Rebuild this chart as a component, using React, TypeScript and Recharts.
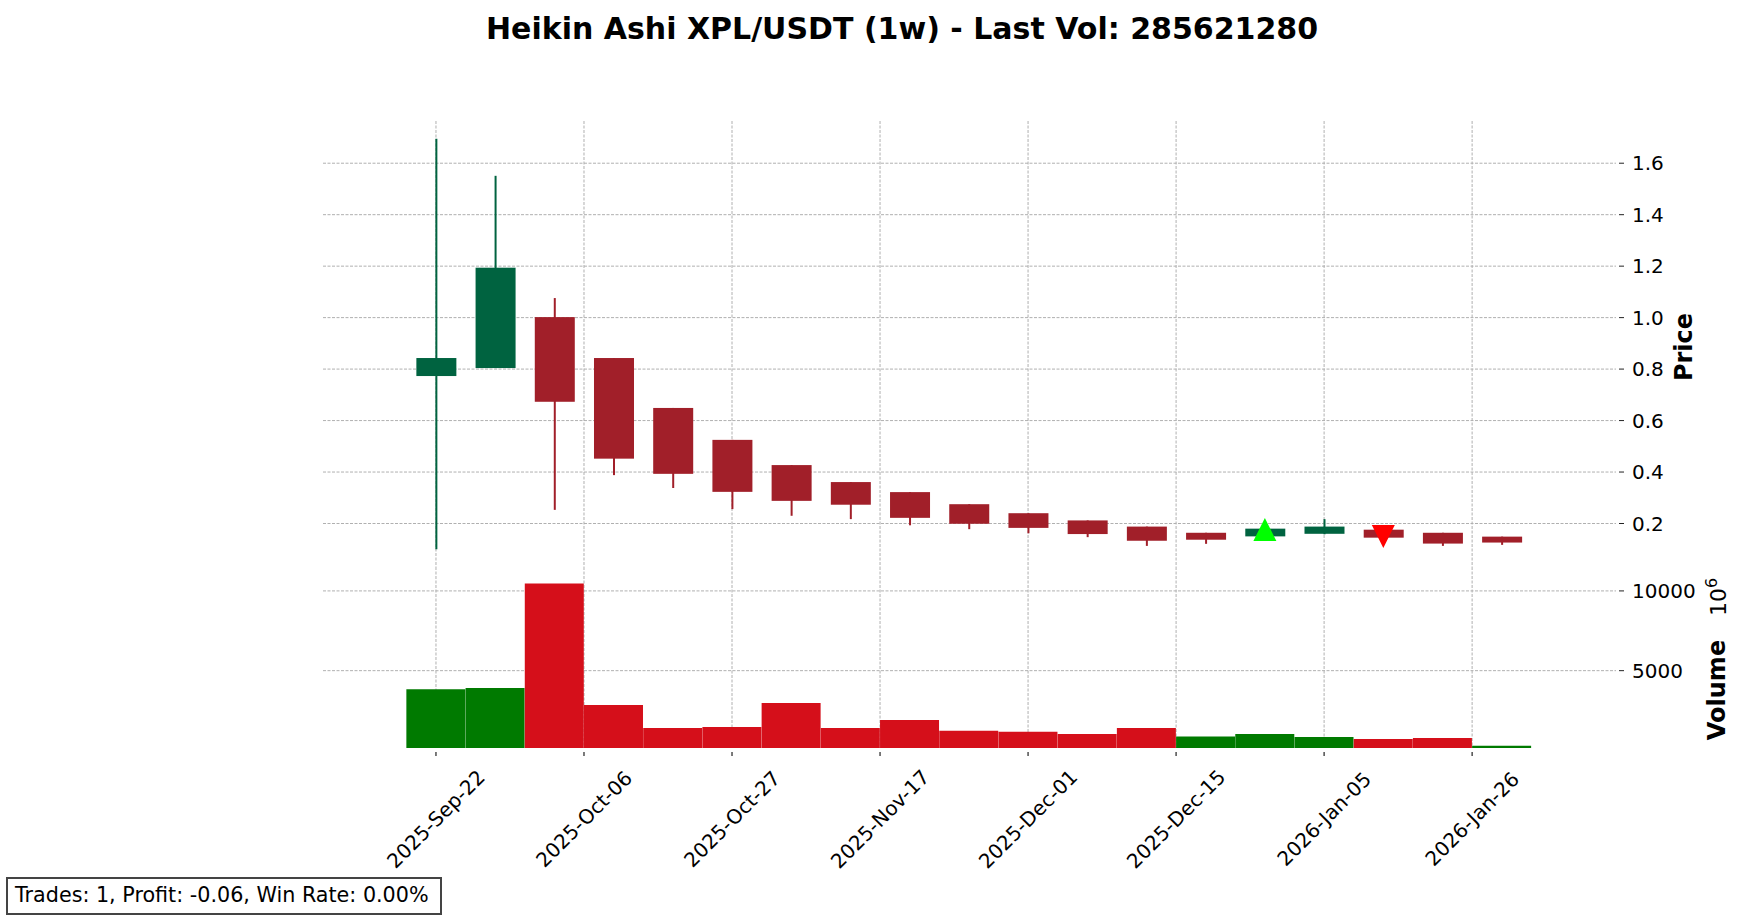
import React from 'react';
import { ComposedChart, Bar, Scatter, XAxis, YAxis, CartesianGrid, Cell } from 'recharts';

// weekly Heikin Ashi candles (price in USDT)
const dates = [
  '2025-09-22', '2025-09-29', '2025-10-06', '2025-10-13', '2025-10-20', '2025-10-27', '2025-11-03',
  '2025-11-10', '2025-11-17', '2025-11-24', '2025-12-01', '2025-12-08', '2025-12-15', '2025-12-22',
  '2025-12-29', '2026-01-05', '2026-01-12', '2026-01-19', '2026-01-26',
];
const opens = [0.773, 0.804, 1.002, 0.843, 0.649, 0.525, 0.427, 0.361, 0.322, 0.275, 0.240, 0.212, 0.188, 0.164, 0.150, 0.160, 0.176, 0.164, 0.149];
const highs = [1.695, 1.551, 1.076, 0.843, 0.649, 0.525, 0.427, 0.361, 0.322, 0.275, 0.240, 0.212, 0.188, 0.164, 0.204, 0.217, 0.176, 0.164, 0.149];
const lows = [0.100, 0.804, 0.253, 0.388, 0.338, 0.256, 0.230, 0.217, 0.193, 0.178, 0.162, 0.147, 0.113, 0.121, 0.150, 0.158, 0.129, 0.113, 0.117];
const closes = [0.843, 1.194, 0.673, 0.452, 0.393, 0.323, 0.288, 0.273, 0.222, 0.199, 0.183, 0.159, 0.133, 0.137, 0.180, 0.188, 0.145, 0.122, 0.126];

// volume in millions
const volumes = [3827, 3909, 10458, 2842, 1399, 1462, 2967, 1399, 1901, 1234, 1171, 1025, 1399, 878, 1025, 836, 711, 774, 285.6];
const volumeUp = [true, true, false, false, false, false, false, false, false, false, false, false, false, true, true, true, false, false, true];

const priceTicks = [0.2, 0.4, 0.6, 0.8, 1.0, 1.2, 1.4, 1.6];
const volumeTicks = [5000, 10000];
const dateTickPositions = [0, 2.5, 5, 7.5, 10, 12.5, 15, 17.5];
const dateTickLabels = ['2025-Sep-22', '2025-Oct-06', '2025-Oct-27', '2025-Nov-17', '2025-Dec-01', '2025-Dec-15', '2026-Jan-05', '2026-Jan-26'];

const buySignals = [{ idx: 14, price: 0.177 }];
const sellSignals = [{ idx: 16, price: 0.1495 }];

const candles = dates.map((date, i) => ({
  idx: i,
  date,
  open: opens[i],
  high: highs[i],
  low: lows[i],
  close: closes[i],
  range: [lows[i], highs[i]],
  volume: volumes[i],
  volUp: volumeUp[i],
}));

const FONT = '"DejaVu Sans", sans-serif';
const UP = '#006340';
const DOWN = '#a11f29';
const VOL_UP = '#007a00';
const VOL_DOWN = '#d50f1a';
const GRID = '#b0b0b0';

const X_DOMAIN = [-1.908, 19.93];
const PRICE_DOMAIN = [0.031, 1.764];
const VOL_DOMAIN = [150, 11500];
const PLOT_LEFT = 323;
const AXIS_W = 132;

// grid only at the tick values, no frame round the plot
const vertGen = ({ offset }: any) =>
  dateTickPositions.map((t) => offset.left + ((t - X_DOMAIN[0]) / (X_DOMAIN[1] - X_DOMAIN[0])) * offset.width);
const horizGen = (ticks: number[], domain: number[]) => ({ offset }: any) =>
  ticks.map((t) => offset.top + ((domain[1] - t) / (domain[1] - domain[0])) * offset.height);

const renderCandle = (props: any) => {
  const { x, y, width, height } = props;
  const p = props.payload || props;
  const top = height >= 0 ? y : y + height;
  const h = Math.abs(height);
  const ppu = h / (p.high - p.low);
  const up = p.close >= p.open;
  const color = up ? UP : DOWN;
  const bodyTop = top + (p.high - Math.max(p.open, p.close)) * ppu;
  const bodyBot = top + (p.high - Math.min(p.open, p.close)) * ppu;
  const cx = x + width / 2;
  return (
    <g>
      <line x1={cx} x2={cx} y1={top} y2={top + h} stroke={color} strokeWidth={2} />
      <rect x={x} y={bodyTop} width={width} height={Math.max(bodyBot - bodyTop, 1)} fill={color} />
    </g>
  );
};

const upTriangle = (props: any) => {
  const { cx, cy } = props;
  const s = 11.5;
  return <polygon points={`${cx},${cy - s} ${cx - s},${cy + s} ${cx + s},${cy + s}`} fill="#00ff00" />;
};

const downTriangle = (props: any) => {
  const { cx, cy } = props;
  const s = 11.5;
  return <polygon points={`${cx},${cy + s} ${cx - s},${cy - s} ${cx + s},${cy - s}`} fill="#ff0000" />;
};

const RightTick = (props: any) => {
  const { x, y, payload, fmt } = props;
  return (
    <g>
      <line x1={x + 3} x2={x + 8} y1={y} y2={y} stroke="#222" strokeWidth={1} />
      <text x={x + 16} y={y} dy="0.36em" fontSize={20} fontFamily={FONT} fill="#000">
        {fmt(payload.value)}
      </text>
    </g>
  );
};

const DateTick = (props: any) => {
  const { x, y, payload } = props;
  const label = dateTickLabels[dateTickPositions.indexOf(payload.value)];
  const cy = y + 71;
  return (
    <g>
      <line x1={x} x2={x} y1={y + 4} y2={y + 8} stroke="#222" strokeWidth={1.2} />
      <text
        x={x}
        y={cy}
        textAnchor="middle"
        dominantBaseline="central"
        transform={`rotate(-45 ${x} ${cy})`}
        fontSize={20}
        fontFamily={FONT}
        fill="#000"
      >
        {label}
      </text>
    </g>
  );
};

export default function App() {
  return (
    <div style={{ position: 'absolute', left: 0, top: 0, width: 1748, height: 921, background: '#fff' }}>
      <div style={{ position: 'absolute', left: 0, top: 0 }}>
        <ComposedChart width={1748} height={567} data={candles} margin={{ top: 121, right: 0, bottom: 0, left: PLOT_LEFT }}>
          <CartesianGrid
            stroke={GRID}
            strokeDasharray="3 1.5"
            strokeWidth={1}
            verticalCoordinatesGenerator={vertGen}
            horizontalCoordinatesGenerator={horizGen(priceTicks, PRICE_DOMAIN)}
          />
          <XAxis
            dataKey="idx"
            type="number"
            domain={X_DOMAIN}
            allowDataOverflow
            ticks={dateTickPositions}
            interval={0}
            tick={false}
            axisLine={false}
            tickLine={false}
            height={0}
          />
          <YAxis
            orientation="right"
            type="number"
            domain={PRICE_DOMAIN}
            allowDataOverflow
            ticks={priceTicks}
            interval={0}
            width={AXIS_W}
            axisLine={false}
            tickLine={false}
            tickSize={0}
            tickMargin={0}
            tick={<RightTick fmt={(v: number) => v.toFixed(1)} />}
          />
          <Bar dataKey="range" barSize={40} shape={renderCandle} isAnimationActive={false} />
          <Scatter data={buySignals} dataKey="price" shape={upTriangle} isAnimationActive={false} />
          <Scatter data={sellSignals} dataKey="price" shape={downTriangle} isAnimationActive={false} />
        </ComposedChart>
      </div>
      <div style={{ position: 'absolute', left: 0, top: 567 }}>
        <ComposedChart width={1748} height={354} data={candles} margin={{ top: 0, right: 0, bottom: 0, left: PLOT_LEFT }}>
          <CartesianGrid
            stroke={GRID}
            strokeDasharray="3 1.5"
            strokeWidth={1}
            verticalCoordinatesGenerator={vertGen}
            horizontalCoordinatesGenerator={horizGen(volumeTicks, VOL_DOMAIN)}
          />
          <XAxis
            dataKey="idx"
            type="number"
            domain={X_DOMAIN}
            allowDataOverflow
            ticks={dateTickPositions}
            interval={0}
            axisLine={false}
            tickLine={false}
            tickSize={0}
            tickMargin={0}
            height={173}
            tick={<DateTick />}
          />
          <YAxis
            orientation="right"
            type="number"
            domain={VOL_DOMAIN}
            allowDataOverflow
            ticks={volumeTicks}
            interval={0}
            width={AXIS_W}
            axisLine={false}
            tickLine={false}
            tickSize={0}
            tickMargin={0}
            tick={<RightTick fmt={(v: number) => String(v)} />}
          />
          <Bar dataKey="volume" barSize={59} isAnimationActive={false}>
            {candles.map((c, i) => (
              <Cell key={`v-${i}`} fill={c.volUp ? VOL_UP : VOL_DOWN} />
            ))}
          </Bar>
        </ComposedChart>
      </div>
      <svg
        width={1748}
        height={921}
        style={{ position: 'absolute', left: 0, top: 0, pointerEvents: 'none' }}
        fontFamily={FONT}
      >
        <text x={902} y={39} textAnchor="middle" fontSize={30} fontWeight="bold" fill="#000">
          Heikin Ashi XPL/USDT (1w) - Last Vol: 285621280
        </text>
        <text
          x={1684}
          y={347}
          textAnchor="middle"
          dominantBaseline="central"
          transform="rotate(-90 1684 347)"
          fontSize={24}
          fontWeight="bold"
          fill="#000"
        >
          Price
        </text>
        <text
          x={1717}
          y={690}
          textAnchor="middle"
          dominantBaseline="central"
          transform="rotate(-90 1717 690)"
          fontSize={24}
          fontWeight="bold"
          fill="#000"
        >
          Volume
        </text>
        <text x={1726} y={597} textAnchor="middle" transform="rotate(-90 1726 597)" fontSize={22} fill="#000">
          10<tspan dy={-9} fontSize={16}>6</tspan>
        </text>
        <rect x={7} y={878} width={434} height={36} fill="#fff" stroke="#444" strokeWidth={2} />
        <text x={15} y={902} fontSize={20.7} fill="#000">
          Trades: 1, Profit: -0.06, Win Rate: 0.00%
        </text>
      </svg>
    </div>
  );
}
